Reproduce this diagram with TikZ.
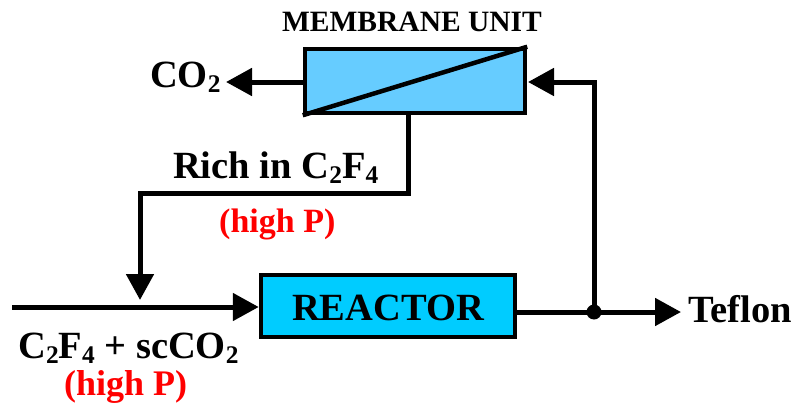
\documentclass[tikz,border=0pt]{standalone}
\usepackage{fontspec}
\setmainfont{Liberation Serif}
\usetikzlibrary{arrows.meta,calc}
\newcommand\chemsub[1]{\raisebox{-0.13em}{\scalebox{0.66}{#1}}}
\definecolor{membfill}{HTML}{66CCFF}
\definecolor{reacfill}{HTML}{00CCFF}
\definecolor{redtxt}{HTML}{FF0000}
\tikzset{
  flow/.style={line width=5pt,-{Triangle[length=26pt,width=27pt]}},
  plainflow/.style={line width=5pt},
  unitbox/.style={draw,line width=4.5pt,inner sep=0pt},
  lbl/.style={inner sep=0pt,font=\fontsize{38.5}{40}\selectfont\bfseries},
  redlbl/.style={inner sep=0pt,text=redtxt,font=\fontsize{35}{38}\selectfont\bfseries},
}
\begin{document}
\begin{tikzpicture}[x=1pt,y=-1pt]
\useasboundingbox (0,0) rectangle (797,404);
% units
\node[unitbox,fill=membfill,minimum width=220pt,minimum height=64pt] (memb) at (415,81) {};
\draw[line width=4.5pt] (memb.south west) -- (memb.north east);
\node[unitbox,fill=reacfill,minimum width=254pt,minimum height=62pt] (reac) at (388,306) {};
\node[lbl,anchor=base] (reactxt) at (388,320) {REACTOR};
% labels
\node[inner sep=0pt,anchor=base,font=\fontsize{29.5}{31}\selectfont\bfseries] (membtxt) at (412,32) {MEMBRANE UNIT};
\node[lbl,anchor=base west] (co2) at (150,87) {CO\chemsub{2}};
\node[lbl,anchor=base west] (rich) at (173,178) {Rich in C\chemsub{2}F\chemsub{4}};
\node[redlbl,anchor=base west,font=\fontsize{34}{36}\selectfont\bfseries] (hp1) at (219,232) {(high P)};
\node[lbl,anchor=base west] (feed) at (18,358) {C\chemsub{2}F\chemsub{4} + scCO\chemsub{2}};
\node[redlbl,anchor=base west,font=\fontsize{36}{38}\selectfont\bfseries] (hp2) at (64,395) {(high P)};
\node[lbl,anchor=base west] (teflon) at (688,322) {Teflon};
% coordinates
\coordinate (co2tip) at (226,82);
\coordinate (feedin) at (12,307);
\coordinate (junc) at (594,312);
\coordinate (teftip) at (681,312);
\coordinate (recycup) at (594,82);
\coordinate (membout) at (408,115);
\coordinate (bend1) at (408,193);
\coordinate (bend2) at (140,193);
\coordinate (mixtip) at (140,300);
\coordinate (membin) at (528,82);
% connectors
\draw[flow] (memb.west |- co2tip) -- (co2tip);
\draw[flow] (feedin) -- (reac.west |- feedin);
\draw[plainflow] (reac.east |- junc) -- (junc);
\draw[flow] (junc) -- (teftip);
\draw[flow] (junc) -- (recycup) -- (membin);
\draw[flow] (membout) -- (bend1) -- (bend2) -- (mixtip);
\fill (junc) circle (7.5pt);
\end{tikzpicture}
\end{document}
